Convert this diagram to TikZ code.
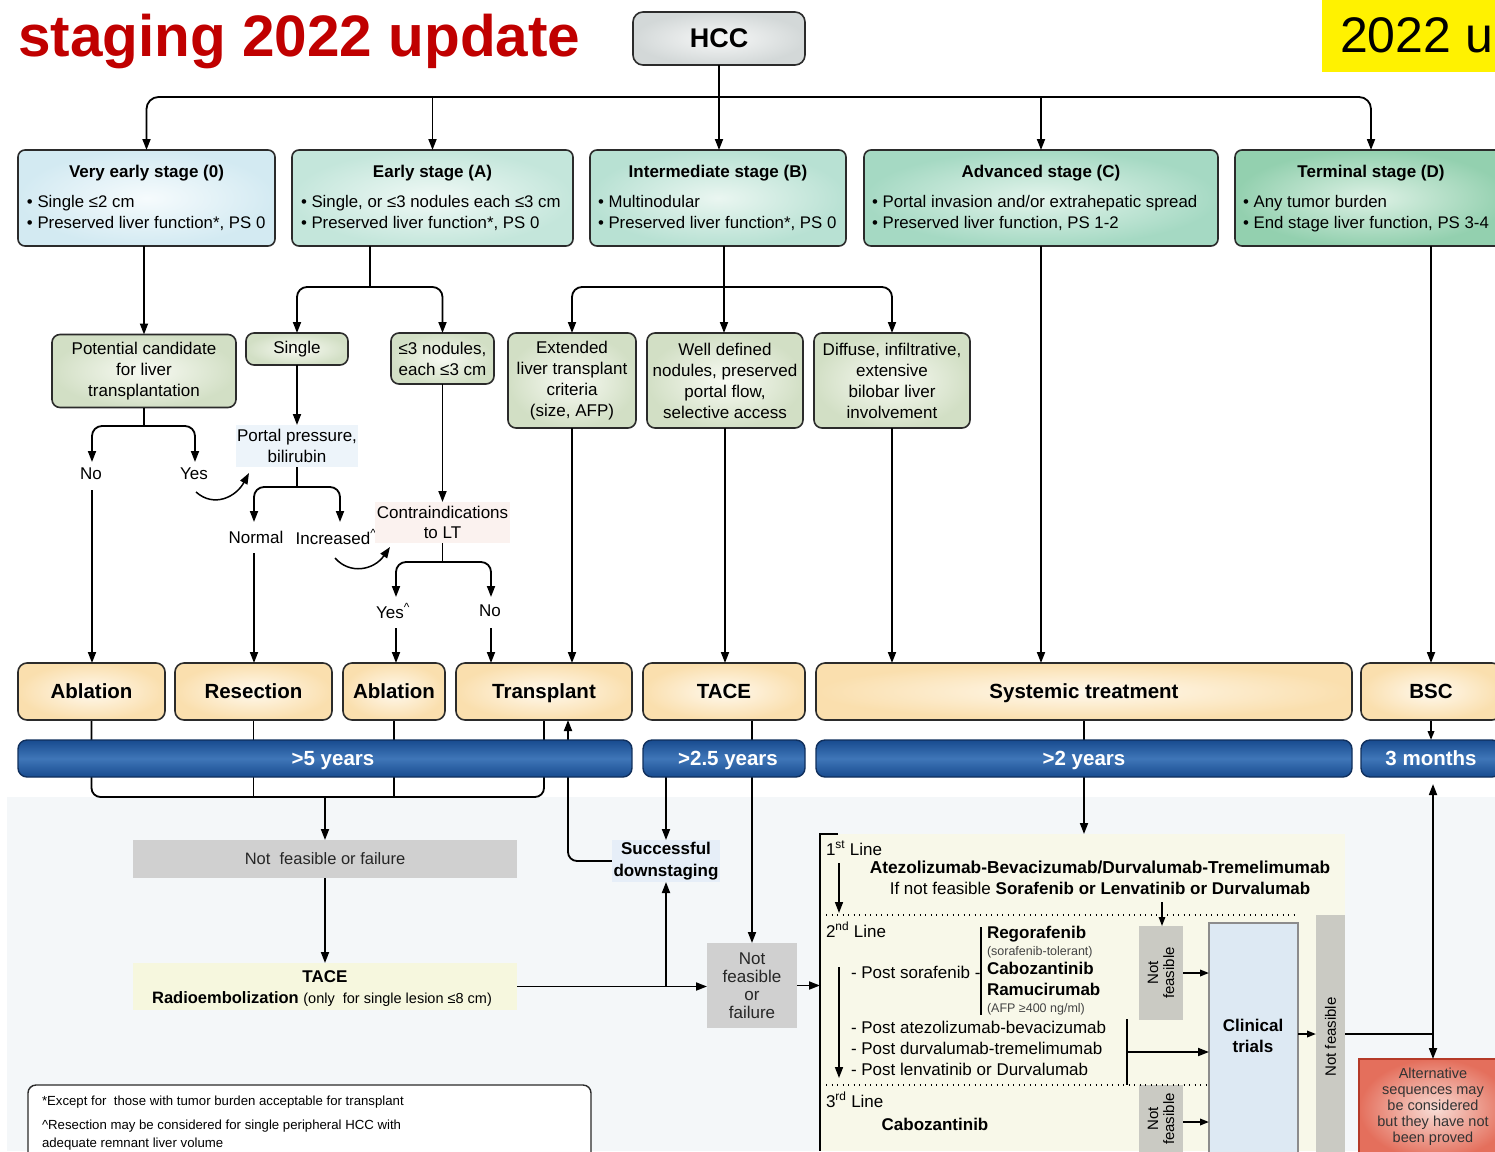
\documentclass[tikz,border=0pt]{standalone}
\usepackage{fontspec}
\setmainfont{Liberation Sans}
\usetikzlibrary{arrows.meta,calc}
\pgfdeclarelayer{background}
\pgfsetlayers{background,main}
\newcommand\fsz[2]{\fontsize{#1}{#2}\selectfont}

\definecolor{titlered}{HTML}{C00000}
\definecolor{boxedge}{HTML}{2B2B2B}
\definecolor{hccin}{HTML}{F7F8F8}
\definecolor{hccout}{HTML}{D3D8D8}
\definecolor{zeroin}{HTML}{F6FBFD}
\definecolor{zeroout}{HTML}{D3EAF2}
\definecolor{ain}{HTML}{F0F9F6}
\definecolor{aout}{HTML}{C4E6DB}
\definecolor{bin}{HTML}{EAF6F1}
\definecolor{bout}{HTML}{B8E1D3}
\definecolor{cin}{HTML}{E3F4EC}
\definecolor{cout}{HTML}{A5D9C3}
\definecolor{din}{HTML}{DDF1E5}
\definecolor{dout}{HTML}{93D0AF}
\definecolor{lvin}{HTML}{F8FAF3}
\definecolor{lvout}{HTML}{D2DFC5}
\definecolor{trin}{HTML}{FFF9EE}
\definecolor{trout}{HTML}{FADFAE}
\definecolor{barin}{HTML}{3F76B8}
\definecolor{barout}{HTML}{184B8F}
\definecolor{bardk}{HTML}{102F5C}
\definecolor{lowbg}{HTML}{F4F7F9}
\definecolor{panelbg}{HTML}{F8F8E9}
\definecolor{greybox}{HTML}{D0D0D0}
\definecolor{nfgrey}{HTML}{CACAC3}
\definecolor{ctfill}{HTML}{DDE9F3}
\definecolor{ctedge}{HTML}{8C8C8C}
\definecolor{altin}{HTML}{F8DDD6}
\definecolor{altout}{HTML}{E46F5C}
\definecolor{altedge}{HTML}{B53A28}
\definecolor{portalbg}{HTML}{EDF4FA}
\definecolor{contrabg}{HTML}{FBF2EF}
\definecolor{sdbg}{HTML}{E6EEF8}
\definecolor{trbg}{HTML}{F6F7DE}
\definecolor{smallgrey}{HTML}{444444}

\begin{document}
\begin{tikzpicture}[x=1pt,y=-1pt,line width=1.8pt,
  every node/.style={inner sep=0pt,outer sep=0pt},
  toarrow/.style={-{Triangle[length=11pt,width=8pt]}},
  botharrow/.style={{Triangle[length=11pt,width=8pt]}-{Triangle[length=11pt,width=8pt]}},
  smallarrow/.style={-{Triangle[length=9pt,width=6.5pt]}},
  stagebox/.style={draw=boxedge,line width=1.6pt,rounded corners=7pt,minimum height=96pt},
  stitle/.style={font=\bfseries\fsz{17}{20},anchor=base},
  sbul/.style={font=\fsz{16.8}{20},anchor=base west},
  lvbox/.style={draw=boxedge,line width=1.6pt,rounded corners=8pt,inner color=lvin,outer color=lvout,align=center,font=\fsz{17}{21}},
  lbl/.style={font=\fsz{17}{20},align=center,inner sep=3pt},
  plainbox/.style={align=center,font=\fsz{17}{20.5}},
  treatbox/.style={draw=boxedge,line width=1.6pt,rounded corners=9pt,inner color=trin,outer color=trout,minimum height=57pt,font=\bfseries\fsz{20.5}{24},text height=14.7pt,text depth=0pt},
  survbar/.style={draw=bardk,line width=1.4pt,rounded corners=9pt,top color=barout,bottom color=barout,middle color=barin,minimum height=37pt},
  bartext/.style={text=white,font=\bfseries\fsz{20.5}{24},text height=14.7pt,text depth=0pt},
  ptext/.style={font=\fsz{17}{20},anchor=base west},
  pbold/.style={font=\bfseries\fsz{17}{20},anchor=base west},
  psmall/.style={font=\fsz{12.5}{15},text=smallgrey,anchor=base west},
  nfbox/.style={fill=nfgrey},
  nftext/.style={rotate=90,align=center,font=\fsz{15}{16}},
  dotline/.style={line width=1.3pt,dash pattern=on 1.3pt off 4.2pt},
]
\useasboundingbox (0,0) rectangle (1495,1151);
\clip (0,0) rectangle (1495,1151);

% ---------- heading ----------
\node[anchor=base west,text=titlered,font=\bfseries\fsz{58.5}{60}] (title) at (18,56) {staging 2022 update};
\node[fill=yellow,minimum width=173pt,minimum height=72pt,anchor=north west] (badge) at (1322,0) {};
\node[anchor=base west,font=\fsz{50}{52}] (badgetext) at (1340,52) {2022 update};

\node[draw=boxedge,line width=1.6pt,rounded corners=10pt,inner color=hccin,outer color=hccout,
      minimum width=172pt,minimum height=53pt,font=\bfseries\fsz{27}{30}] (hcc) at (719,38.5) {HCC};

% ---------- stages ----------
\node[stagebox,minimum width=257pt,inner color=zeroin,outer color=zeroout] (s0) at (146.5,198) {};
\node[stitle] (s0t) at (146.5,177) {Very early stage (0)};
\node[sbul] (s0a) at (27,207) {• Single ≤2 cm};
\node[sbul] (s0b) at (27,228) {• Preserved liver function*, PS 0};

\node[stagebox,minimum width=281pt,inner color=ain,outer color=aout] (sA) at (432.5,198) {};
\node[stitle] (sAt) at (432.5,177) {Early stage (A)};
\node[sbul] (sAa) at (301,207) {• Single, or ≤3 nodules each ≤3 cm};
\node[sbul] (sAb) at (301,228) {• Preserved liver function*, PS 0};

\node[stagebox,minimum width=256pt,inner color=bin,outer color=bout] (sB) at (718,198) {};
\node[stitle] (sBt) at (718,177) {Intermediate stage (B)};
\node[sbul] (sBa) at (598,207) {• Multinodular};
\node[sbul] (sBb) at (598,228) {• Preserved liver function*, PS 0};

\node[stagebox,minimum width=354pt,inner color=cin,outer color=cout] (sC) at (1041,198) {};
\node[stitle] (sCt) at (1041,177) {Advanced stage (C)};
\node[sbul] (sCa) at (872,207) {• Portal invasion and/or extrahepatic spread};
\node[sbul] (sCb) at (872,228) {• Preserved liver function, PS 1-2};

\node[stagebox,minimum width=272pt,inner color=din,outer color=dout] (sD) at (1371,198) {};
\node[stitle] (sDt) at (1371,177) {Terminal stage (D)};
\node[sbul] (sDa) at (1243,207) {• Any tumor burden};
\node[sbul] (sDb) at (1243,228) {• End stage liver function, PS 3-4};

% ---------- second level ----------
\node[lvbox,minimum width=184pt,minimum height=73pt] (pc) at (144,371) {Potential candidate\\for liver\\transplantation};
\node[lvbox,minimum width=102pt,minimum height=32pt] (single) at (297,349) {Single};
\node[lvbox,minimum width=103pt,minimum height=51pt] (le3) at (442.5,358.5) {≤3 nodules,\\each ≤3 cm};
\node[lvbox,minimum width=128pt,minimum height=95pt] (ext) at (572,380.5) {Extended\\liver transplant\\criteria\\(size, AFP)};
\node[lvbox,minimum width=156pt,minimum height=95pt] (well) at (725,380.5) {Well defined\\nodules, preserved\\portal flow,\\selective access};
\node[lvbox,minimum width=156pt,minimum height=95pt] (diff) at (892,380.5) {Diffuse, infiltrative,\\extensive\\bilobar liver\\involvement};

% ---------- decisions ----------
\node[lbl] (no1) at (91,474) {No};
\node[lbl] (yes1) at (194,474) {Yes};
\node[fill=portalbg,minimum width=122pt,minimum height=42pt,plainbox] (portal) at (297,446) {Portal pressure,\\bilirubin};
\node[lbl] (normal) at (256,537) {Normal};
\node[lbl] (incr) at (336,537) {Increased\textsuperscript{\textasciicircum}};
\node[fill=contrabg,minimum width=135pt,minimum height=41pt,plainbox] (contra) at (442.5,522.5) {Contraindications\\to LT};
\node[lbl] (yes2) at (393,611) {Yes\textsuperscript{\textasciicircum}};
\node[lbl] (no2) at (490,611) {No};

% ---------- treatments ----------
\node[treatbox,minimum width=147pt] (abl1) at (91.5,691.5) {Ablation};
\node[treatbox,minimum width=157pt] (res) at (253.5,691.5) {Resection};
\node[treatbox,minimum width=102pt] (abl2) at (394,691.5) {Ablation};
\node[treatbox,minimum width=176pt] (trans) at (544,691.5) {Transplant};
\node[treatbox,minimum width=162pt] (tace) at (724,691.5) {TACE};
\node[treatbox,minimum width=536pt] (sys) at (1084,691.5) {Systemic treatment};
\node[treatbox,minimum width=140pt] (bsc) at (1431,691.5) {BSC};

% ---------- survival bars ----------
\node[survbar,minimum width=614pt] (b5) at (325,758.5) {};
\node[bartext] (b5t) at (333,758.5) {>5 years};
\node[survbar,minimum width=162pt] (b25) at (724,758.5) {};
\node[bartext] (b25t) at (728,758.5) {>2.5 years};
\node[survbar,minimum width=536pt] (b2) at (1084,758.5) {};
\node[bartext] (b2t) at (1084,758.5) {>2 years};
\node[survbar,minimum width=140pt] (b3m) at (1431,758.5) {};
\node[bartext] (b3mt) at (1431,758.5) {3 months};

% ---------- lower part ----------
\node[fill=greybox,minimum width=384pt,minimum height=38pt,font=\fsz{16.5}{20},text=black!85] (nff) at (325,859) {Not\ \ feasible or failure};
\node[fill=sdbg,minimum width=108pt,minimum height=42pt,align=center,font=\bfseries\fsz{17}{22}] (sd) at (666,861) {Successful\\downstaging};
\node[fill=trbg,minimum width=384pt,minimum height=47pt] (tr) at (325,986.5) {};
\node[font=\bfseries\fsz{17}{20}] (trA) at (325,977) {TACE};
\node[font=\fsz{16.5}{20}] (trB) at (322,999) {\textbf{Radioembolization} {\fsz{14.5}{16}(only\ \ for single lesion ≤8 cm)}};
\node[fill=greybox,minimum width=90pt,minimum height=85pt,align=center,font=\fsz{17}{18},text=black!85] (nf2) at (752,985.5) {Not\\feasible\\or\\failure};

% systemic treatment panel
\node[fill=panelbg,minimum width=525pt,minimum height=317pt,anchor=north west] (panel) at (820,834) {};
\draw[line width=1.6pt] ([xshift=18pt]panel.north west) -- (panel.north west) -- (panel.south west);

\node[ptext] (l1) at (826,855) {1\textsuperscript{st} Line};
\node[font=\bfseries\fsz{17.3}{20},anchor=base] (l1a) at (1100,873) {Atezolizumab-Bevacizumab/Durvalumab-Tremelimumab};
\node[font=\fsz{17}{20},anchor=base] (l1b) at (1100,894) {If not feasible \textbf{Sorafenib or Lenvatinib or Durvalumab}};
\coordinate (d1a) at (826,915);
\coordinate (d1b) at (1296,915);
\draw[dotline] (d1a) -- (d1b);

\node[ptext] (l2) at (826,937) {2\textsuperscript{nd} Line};
\node[ptext] (psor) at (851,978) {- Post sorafenib -};
\coordinate (sorTop) at (981,927);
\coordinate (sorBot) at (981,1015);
\draw[line width=1.5pt] (sorTop) -- (sorBot);
\node[pbold] (rego) at (987,938) {Regorafenib};
\node[psmall] (regon) at (987,955) {(sorafenib-tolerant)};
\node[pbold] (cabo) at (987,974) {Cabozantinib};
\node[pbold] (ramu) at (987,995) {Ramucirumab};
\node[psmall] (ramun) at (987,1012) {(AFP ≥400 ng/ml)};
\node[ptext] (patz) at (851,1033) {- Post atezolizumab-bevacizumab};
\node[ptext] (pdur) at (851,1054) {- Post durvalumab-tremelimumab};
\node[ptext] (plen) at (851,1075) {- Post lenvatinib or Durvalumab};
\coordinate (d2a) at (826,1085);
\node[ptext] (l3) at (826,1107) {3\textsuperscript{rd} Line};
\node[pbold,anchor=base] (cabo3) at (935,1130) {Cabozantinib};

\node[nfbox,minimum width=44pt,minimum height=94pt] (nfa) at (1161,973) {};
\node[nftext] (nfat) at (1161,973) {Not\\feasible};
\node[nfbox,minimum width=44pt,minimum height=74pt] (nfb) at (1161,1122) {};
\node[nftext] (nfbt) at (1161,1119) {Not\\feasible};
\node[fill=ctfill,draw=ctedge,line width=1.2pt,minimum width=89pt,minimum height=236pt] (ct) at (1253.5,1041) {};
\node[font=\bfseries\fsz{17}{21},align=center] (ctt) at (1253,1036) {Clinical\\trials};
\node[nfbox,minimum width=29pt,minimum height=244pt] (nft) at (1330.5,1037) {};
\node[nftext] (nftt) at (1330.5,1037) {Not feasible};

\node[draw=altedge,line width=1.4pt,inner color=altin,outer color=altout,minimum width=151pt,minimum height=100pt] (alt) at (1434.5,1109) {};
\node[font=\fsz{14.5}{16},align=center,text=black!80] (altt) at (1433,1106.5) {Alternative\\sequences may\\be considered\\but they have not\\been proved};

% footnotes
\node[draw=boxedge,line width=1.4pt,rounded corners=8pt,fill=white,minimum width=563pt,minimum height=80pt,anchor=north west] (foot) at (28,1085) {};
\node[anchor=base west,font=\fsz{13.2}{16}] (f1) at (42,1105) {*Except for\ \ those with tumor burden acceptable for transplant};
\node[anchor=base west,font=\fsz{13.2}{16}] (f2) at (42,1129) {\textasciicircum Resection may be considered for single peripheral HCC with};
\node[anchor=base west,font=\fsz{13.2}{16}] (f3) at (42,1147) {adequate remnant liver volume};

% ---------- connectors: HCC to stages ----------
\coordinate (trunk) at (719,97);
\draw[toarrow] (hcc.south) -- (hcc.south |- sB.north);
\draw[botharrow,rounded corners=12pt] (s0.north) |- (trunk) -| (sD.north);
\draw[toarrow] (sA.north |- trunk) -- (sA.north);
\draw[toarrow] (sC.north |- trunk) -- (sC.north);

% stages to second level
\draw[toarrow] (pc.north |- s0.south) -- (pc.north);
\coordinate (sAs) at (370,287);
\draw (sAs |- sA.south) -- (sAs);
\draw[botharrow,rounded corners=10pt] (single.north) |- (sAs) -| (le3.north);
\coordinate (sBs) at (724,287);
\draw (sBs |- sB.south) -- (sBs);
\draw[botharrow,rounded corners=10pt] (ext.north) |- (sBs) -| (diff.north);
\draw[toarrow] (sBs) -- (sBs |- well.north);
\draw[toarrow] (sC.south) -- (sC.south |- sys.north);
\draw[toarrow] (bsc.north |- sD.south) -- (bsc.north);

% transplant candidate branch
\coordinate (pcs) at (144,426);
\coordinate (noTip) at (92,462);
\coordinate (yesTip) at (195,462);
\draw (pc.south) -- (pcs);
\draw[botharrow,rounded corners=10pt] (noTip) |- (pcs) -| (yesTip);
\coordinate (noFrom) at (92,490);
\draw[toarrow] (noFrom) -- (noFrom |- abl1.north);
\coordinate (yesFrom) at (196,492);
\coordinate (portalIn) at (249,473);
\draw[toarrow,line width=1.5pt] (yesFrom) .. controls (214,508) and (236,497) .. (portalIn);

% single nodule branch
\draw[toarrow] (single.south) -- (portal.north);
\coordinate (pps) at (297,487);
\coordinate (normTip) at (254,522);
\coordinate (incTip) at (340,522);
\draw (portal.south) -- (pps);
\draw[botharrow,rounded corners=10pt] (normTip) |- (pps) -| (incTip);
\coordinate (normFrom) at (254,553);
\draw[toarrow] (normFrom) -- (normFrom |- res.north);
\coordinate (incFrom) at (335,558);
\coordinate (contraIn) at (390,547);
\draw[toarrow,line width=1.5pt] (incFrom) .. controls (350,575) and (374,570) .. (contraIn);

% up to three nodules branch
\draw[toarrow] (le3.south) -- (contra.north);
\coordinate (cs) at (442.5,562);
\coordinate (yes2Tip) at (396,597);
\coordinate (no2Tip) at (491,597);
\draw (contra.south) -- (cs);
\draw[botharrow,rounded corners=10pt] (yes2Tip) |- (cs) -| (no2Tip);
\coordinate (yes2From) at (396,628);
\coordinate (no2From) at (491,628);
\draw[toarrow] (yes2From) -- (yes2From |- abl2.north);
\draw[toarrow] (no2From) -- (no2From |- trans.north);

\draw[toarrow] (ext.south) -- (ext.south |- trans.north);
\draw[toarrow] (well.south) -- (well.south |- tace.north);
\draw[toarrow] (diff.south) -- (diff.south |- sys.north);

% lower flow
\draw[toarrow] (nff.south) -- (tr.north);
\draw[toarrow] (tr.east) -- (tr.east -| nf2.west);
\coordinate (dsBranch) at (sd.south |- tr.east);
\draw[toarrow] (dsBranch) -- (sd.south);
\draw[toarrow] (nf2.east) -- (nf2.east -| panel.west);

% inside the systemic treatment panel
\coordinate (a1s) at (839,863);
\coordinate (a1e) at (839,913);
\draw[toarrow,line width=1.6pt] (a1s) -- (a1e);
\coordinate (nfaIn) at (1162,902);
\draw[smallarrow,line width=1.5pt] (nfaIn) -- (nfaIn |- nfa.north);
\coordinate (a2s) at (839,967);
\coordinate (a2e) at (839,1078);
\draw[toarrow,line width=1.6pt] (a2s) -- (a2e);
\coordinate (postTop) at (1127,1019);
\coordinate (postBot) at (1127,1085);
\draw[line width=2.2pt] (postTop) -- (postBot);
\coordinate (postMid) at (1127,1052);
\draw[toarrow] (postMid) -- (postMid -| ct.west);
\draw[dotline] (d2a) -- (d2a -| ct.west);
\draw[smallarrow] (nfa.east) -- (nfa.east -| ct.west);
\draw[smallarrow] (nfb.east) -- (nfb.east -| ct.west);
\coordinate (ctRow) at (0,1034);
\draw[smallarrow] (ct.east |- ctRow) -- (nft.west |- ctRow);
\coordinate (upTip) at (1433,784);
\draw[botharrow] (upTip) -- (upTip |- alt.north);
\draw (nft.east |- ctRow) -- (upTip |- ctRow);

% ---------- connectors running under the survival bars ----------
\begin{pgfonlayer}{background}
\fill[lowbg] (7,797) rectangle (1495,1151);
\begin{scope}[line width=1.8pt,draw=black]
\coordinate (brk) at (325,797);
\draw[rounded corners=9pt] (abl1.south) |- (brk) -| (trans.south);
\draw (res.south) -- (res.south |- brk);
\draw (abl2.south) -- (abl2.south |- brk);
\draw[toarrow] (brk) -- (nff.north);
\draw[toarrow] (nf2.north |- tace.south) -- (nf2.north);
\draw[toarrow] (sd.north |- b25.south) -- (sd.north);
\coordinate (upX) at (568,720);
\draw[toarrow,rounded corners=9pt] (sd.west) -| (upX);
\draw (sys.south) -- (b2.north);
\draw[toarrow] (b2.south) -- (b2.south |- panel.north);
\draw[smallarrow] (bsc.south) -- (b3m.north);
\end{scope}
\end{pgfonlayer}
\end{tikzpicture}
\end{document}
